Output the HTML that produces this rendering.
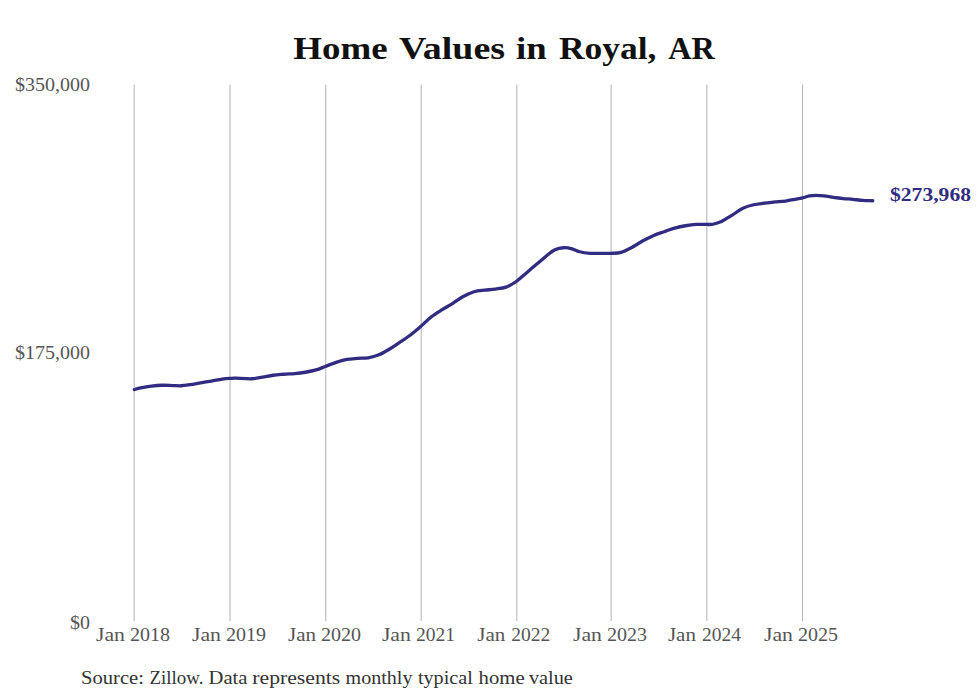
<!DOCTYPE html>
<html><head><meta charset="utf-8">
<style>
html,body{margin:0;padding:0;background:#fff;}
body{width:980px;height:699px;overflow:hidden;}
svg{display:block;}
text{font-family:"Liberation Serif",serif;}
</style></head><body>
<svg width="980" height="699" viewBox="0 0 980 699">
<rect width="980" height="699" fill="#fff"/>
<g font-weight="bold" font-size="32" fill="#111">
<text x="293.20" y="59.3" textLength="94.40" lengthAdjust="spacingAndGlyphs">Home</text>
<text x="398.90" y="59.3" textLength="106.20" lengthAdjust="spacingAndGlyphs">Values</text>
<text x="516.00" y="59.3" textLength="30.60" lengthAdjust="spacingAndGlyphs">in</text>
<text x="558.90" y="59.3" textLength="97.60" lengthAdjust="spacingAndGlyphs">Royal,</text>
<text x="668.20" y="59.3" textLength="46.60" lengthAdjust="spacingAndGlyphs">AR</text>
</g>
<g stroke="#b3b3b3" stroke-width="1">
<line x1="134.2" y1="84.5" x2="134.2" y2="621"/>
<line x1="230.0" y1="84.5" x2="230.0" y2="621"/>
<line x1="325.77" y1="84.5" x2="325.77" y2="621"/>
<line x1="421.17" y1="84.5" x2="421.17" y2="621"/>
<line x1="516.85" y1="84.5" x2="516.85" y2="621"/>
<line x1="611.1" y1="84.5" x2="611.1" y2="621"/>
<line x1="706.85" y1="84.5" x2="706.85" y2="621"/>
<line x1="802.5" y1="84.5" x2="802.5" y2="621"/>
</g>
<g font-size="18" fill="#555">
<text x="15.00" y="90.7" textLength="75.00" lengthAdjust="spacingAndGlyphs">$350,000</text>
<text x="15.00" y="358.8" textLength="75.00" lengthAdjust="spacingAndGlyphs">$175,000</text>
<text x="70.00" y="628.9" textLength="20.00" lengthAdjust="spacingAndGlyphs">$0</text>
</g>
<g font-size="18" fill="#555">
<text x="96.00" y="640.7" textLength="29.00" lengthAdjust="spacingAndGlyphs">Jan</text>
<text x="130.00" y="640.7" textLength="40.00" lengthAdjust="spacingAndGlyphs">2018</text>
<text x="192.00" y="640.7" textLength="29.00" lengthAdjust="spacingAndGlyphs">Jan</text>
<text x="226.00" y="640.7" textLength="40.00" lengthAdjust="spacingAndGlyphs">2019</text>
<text x="288.00" y="640.7" textLength="28.00" lengthAdjust="spacingAndGlyphs">Jan</text>
<text x="321.00" y="640.7" textLength="40.00" lengthAdjust="spacingAndGlyphs">2020</text>
<text x="381.90" y="640.7" textLength="29.00" lengthAdjust="spacingAndGlyphs">Jan</text>
<text x="415.90" y="640.7" textLength="39.00" lengthAdjust="spacingAndGlyphs">2021</text>
<text x="477.30" y="640.7" textLength="28.00" lengthAdjust="spacingAndGlyphs">Jan</text>
<text x="511.30" y="640.7" textLength="39.00" lengthAdjust="spacingAndGlyphs">2022</text>
<text x="573.00" y="640.7" textLength="29.00" lengthAdjust="spacingAndGlyphs">Jan</text>
<text x="607.00" y="640.7" textLength="40.00" lengthAdjust="spacingAndGlyphs">2023</text>
<text x="667.90" y="640.7" textLength="28.00" lengthAdjust="spacingAndGlyphs">Jan</text>
<text x="701.90" y="640.7" textLength="39.00" lengthAdjust="spacingAndGlyphs">2024</text>
<text x="764.00" y="640.7" textLength="29.00" lengthAdjust="spacingAndGlyphs">Jan</text>
<text x="798.00" y="640.7" textLength="40.00" lengthAdjust="spacingAndGlyphs">2025</text>
</g>
<path transform="translate(0,0.15)" d="M134.3,389.4 C135.4,389.1 137.8,388.3 140.7,387.7 C143.5,387.1 147.8,386.3 151.4,385.9 C155.0,385.5 158.6,385.2 162.2,385.1 C165.8,385.0 169.7,385.3 172.9,385.4 C176.1,385.5 178.6,385.8 181.4,385.6 C184.2,385.5 186.8,385.0 190.0,384.5 C193.2,384.0 197.1,383.3 200.7,382.7 C204.3,382.1 207.8,381.5 211.4,380.9 C215.0,380.3 219.1,379.3 222.2,378.9 C225.2,378.5 227.4,378.4 229.7,378.3 C231.9,378.2 232.0,377.9 235.7,378.0 C239.4,378.1 247.3,378.8 251.8,378.6 C256.3,378.4 258.9,377.6 262.5,377.0 C266.1,376.4 269.6,375.6 273.2,375.1 C276.8,374.6 280.4,374.4 284.0,374.1 C287.6,373.8 291.1,373.7 294.7,373.4 C298.3,373.1 301.8,372.7 305.4,372.1 C309.0,371.5 312.8,370.8 316.1,369.8 C319.4,368.8 321.9,367.6 325.2,366.3 C328.5,365.0 332.5,363.4 336.1,362.2 C339.7,361.0 343.2,360.0 346.8,359.3 C350.4,358.6 353.9,358.5 357.5,358.2 C361.1,357.9 364.6,358.3 368.2,357.7 C371.8,357.1 375.3,356.2 378.9,354.7 C382.5,353.2 386.1,350.9 389.7,348.8 C393.3,346.7 396.8,344.2 400.4,341.8 C404.0,339.4 407.7,336.9 411.1,334.3 C414.5,331.7 417.4,329.2 420.7,326.3 C424.0,323.4 427.6,319.6 431.1,316.8 C434.6,314.1 438.2,312.0 441.8,309.8 C445.4,307.6 448.9,305.6 452.5,303.4 C456.1,301.2 459.6,298.4 463.2,296.4 C466.8,294.4 470.4,292.7 474.0,291.6 C477.6,290.5 481.1,290.4 484.7,290.0 C488.3,289.6 491.8,289.4 495.4,288.9 C499.0,288.4 502.6,288.3 506.1,287.0 C509.6,285.7 513.3,283.4 516.6,281.1 C519.9,278.8 522.7,275.9 526.1,273.0 C529.5,270.1 533.2,266.9 536.8,263.9 C540.4,260.9 544.5,257.2 547.5,254.8 C550.5,252.4 552.3,250.7 555.0,249.5 C557.7,248.3 560.9,247.8 563.6,247.6 C566.3,247.4 568.4,247.7 571.1,248.4 C573.8,249.1 576.5,250.8 579.7,251.6 C582.9,252.4 586.8,252.9 590.4,253.2 C594.0,253.5 597.7,253.2 601.1,253.2 C604.5,253.2 607.7,253.4 611.0,253.2 C614.3,253.0 617.6,253.2 621.1,252.2 C624.6,251.2 628.2,249.2 631.8,247.3 C635.4,245.4 638.9,242.9 642.5,240.9 C646.1,238.9 649.6,237.1 653.2,235.5 C656.8,233.9 660.4,232.8 664.0,231.6 C667.6,230.3 671.1,229.0 674.7,228.0 C678.3,227.0 681.8,226.2 685.4,225.6 C689.0,225.0 692.6,224.5 696.1,224.3 C699.6,224.1 703.8,224.3 706.6,224.3 C709.4,224.3 710.4,224.6 712.9,224.1 C715.4,223.6 718.2,222.9 721.4,221.4 C724.6,219.9 728.6,217.2 732.2,215.0 C735.8,212.8 739.3,209.7 742.9,208.0 C746.5,206.3 750.0,205.4 753.6,204.6 C757.2,203.8 760.7,203.5 764.3,203.0 C767.9,202.5 771.4,202.2 775.0,201.8 C778.6,201.5 782.1,201.4 785.7,200.9 C789.3,200.4 793.7,199.4 796.5,198.9 C799.3,198.4 800.5,198.2 802.6,197.7 C804.8,197.2 807.1,196.2 809.4,195.8 C811.7,195.4 813.8,195.3 816.2,195.3 C818.6,195.3 821.0,195.5 823.9,195.8 C826.8,196.1 830.4,196.8 833.6,197.2 C836.8,197.6 840.1,198.1 843.3,198.4 C846.5,198.7 849.8,198.9 853.0,199.2 C856.2,199.5 859.4,200.0 862.7,200.2 C866.0,200.4 871.1,200.5 872.8,200.6" fill="none" stroke="#322b82" stroke-width="3.3" stroke-linecap="round" stroke-linejoin="round"/>
<text x="890" y="200.5" font-weight="bold" font-size="18" fill="#322b82" textLength="81" lengthAdjust="spacingAndGlyphs">$273,968</text>
<g font-size="19" fill="#333">
<text x="81.00" y="683.6" textLength="63.00" lengthAdjust="spacingAndGlyphs">Source:</text>
<text x="149.50" y="683.6" textLength="54.00" lengthAdjust="spacingAndGlyphs">Zillow.</text>
<text x="208.50" y="683.6" textLength="39.00" lengthAdjust="spacingAndGlyphs">Data</text>
<text x="252.30" y="683.6" textLength="88.00" lengthAdjust="spacingAndGlyphs">represents</text>
<text x="345.50" y="683.6" textLength="67.00" lengthAdjust="spacingAndGlyphs">monthly</text>
<text x="417.90" y="683.6" textLength="55.00" lengthAdjust="spacingAndGlyphs">typical</text>
<text x="478.60" y="683.6" textLength="46.00" lengthAdjust="spacingAndGlyphs">home</text>
<text x="528.90" y="683.6" textLength="44.00" lengthAdjust="spacingAndGlyphs">value</text>
</g>
</svg>
</body></html>
